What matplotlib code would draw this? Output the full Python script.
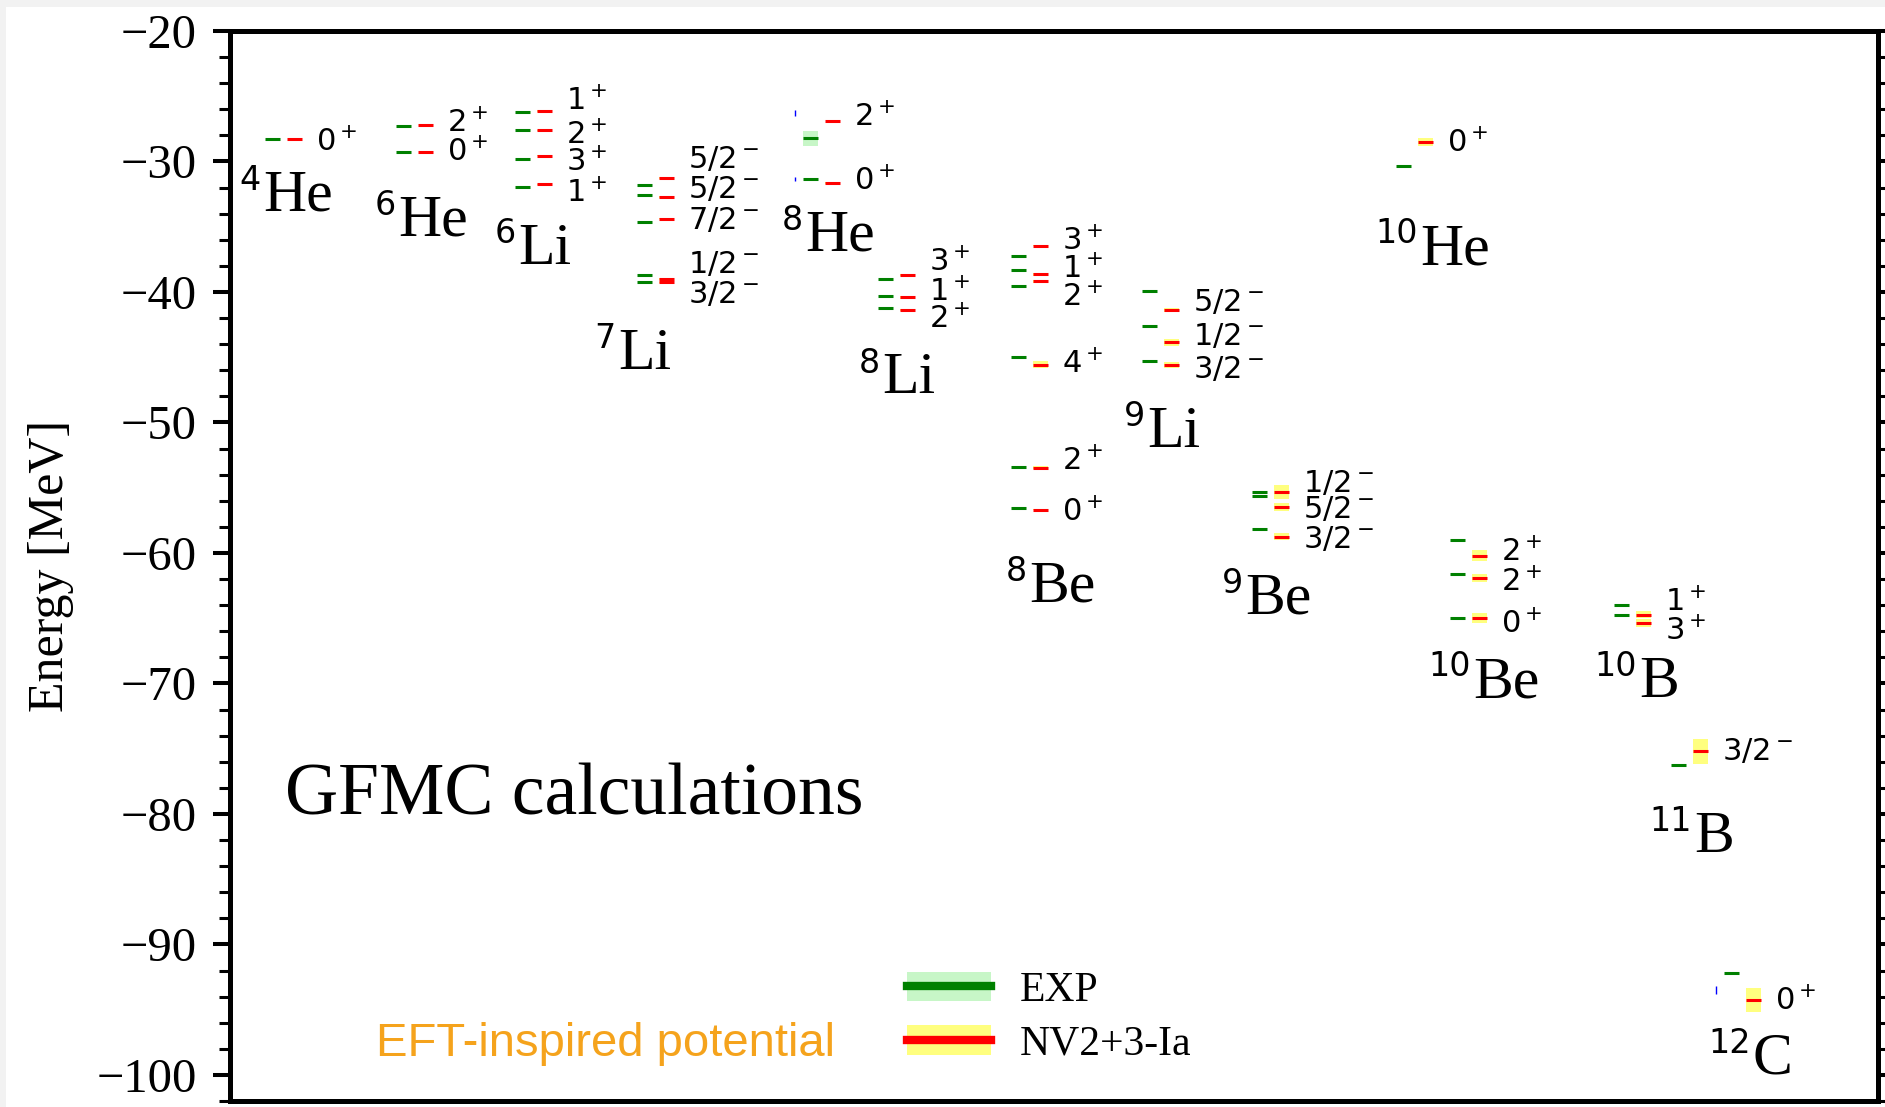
import matplotlib.pyplot as plt
from matplotlib.lines import Line2D
from matplotlib.patches import Patch, Rectangle

plt.rcParams['font.family'] = ['Liberation Serif', 'DejaVu Serif']
plt.rcParams['mathtext.fontset'] = 'dejavusans'

# nuclei, left to right
mass = ['4', '6', '6', '7', '8', '8', '8', '9', '9', '10', '10', '10', '11', '12']
symbol = ['He', 'He', 'Li', 'Li', 'He', 'Li', 'Be', 'Li', 'Be', 'He', 'Be', 'B', 'B', 'C']

# J^pi of each level, top to bottom
spins = [
    ['0^+'],
    ['2^+', '0^+'],
    ['1^+', '2^+', '3^+', '1^+'],
    ['5/2^-', '5/2^-', '7/2^-', '1/2^-', '3/2^-'],
    ['2^+', '0^+'],
    ['3^+', '1^+', '2^+'],
    ['3^+', '1^+', '2^+', '4^+', '2^+', '0^+'],
    ['5/2^-', '1/2^-', '3/2^-'],
    ['1/2^-', '5/2^-', '3/2^-'],
    ['0^+'],
    ['2^+', '2^+', '0^+'],
    ['1^+', '3^+'],
    ['3/2^-'],
    ['0^+'],
]

# experimental energies (MeV) and widths
e_exp = [
    [-28.30],
    [-27.30, -29.27],
    [-26.24, -27.60, -29.80, -31.94],
    [-31.78, -32.56, -34.61, -38.70, -39.24],
    [-28.23, -31.35],
    [-39.00, -40.30, -41.20],
    [-37.23, -38.28, -39.56, -45.00, -53.40, -56.55],
    [-39.94, -42.60, -45.30],
    [-55.36, -55.66, -58.16],
    [-30.33],
    [-58.98, -61.60, -64.95],
    [-63.96, -64.72],
    [-76.22],
    [-92.16],
]
err_exp = [
    [0.0],
    [0.0, 0.0],
    [0.0, 0.0, 0.0, 0.0],
    [0.0, 0.0, 0.0, 0.0, 0.0],
    [0.55, 0.0],
    [0.0, 0.0, 0.0],
    [0.0, 0.0, 0.0, 0.0, 0.0, 0.0],
    [0.0, 0.0, 0.0],
    [0.0, 0.0, 0.0],
    [0.0],
    [0.0, 0.0, 0.0],
    [0.0, 0.0],
    [0.0],
    [0.0],
]

# GFMC with NV2+3-Ia (MeV) and Monte Carlo errors
e_calc = [
    [-28.28],
    [-27.20, -29.28],
    [-26.10, -27.60, -29.56, -31.76],
    [-31.25, -32.70, -34.40, -39.00, -39.25],
    [-26.90, -31.63],
    [-38.70, -40.42, -41.38],
    [-36.46, -38.66, -39.17, -45.56, -53.46, -56.68],
    [-41.35, -43.87, -45.60],
    [-55.33, -56.48, -58.75],
    [-28.51],
    [-60.20, -61.95, -65.00],
    [-64.72, -65.37],
    [-75.20],
    [-94.26],
]
err_calc = [
    [0.02],
    [0.03, 0.03],
    [0.08, 0.03, 0.03, 0.03],
    [0.08, 0.06, 0.04, 0.05, 0.05],
    [0.03, 0.08],
    [0.06, 0.10, 0.10],
    [0.04, 0.12, 0.12, 0.25, 0.12, 0.06],
    [0.15, 0.30, 0.25],
    [0.55, 0.30, 0.25],
    [0.28],
    [0.40, 0.30, 0.40],
    [0.30, 0.30],
    [0.98],
    [0.94],
]

# zero-width blue marks: (nucleus index, energy, half height)
blue_marks = [(4, -26.30, 0.22), (4, -31.35, 0.18), (13, -93.50, 0.28)]

# layout (x in pixels from the left spine)
x_lev = [35, 166, 285, 407, 573, 648, 781, 912, 1022, 1166, 1220, 1384, 1441, 1494]
seg = 15
red_off = 22
lab_off = 51
spin_y = [
    [-28.35],
    [-26.9, -29.1],
    [-25.2, -27.77, -29.9, -32.25],
    [-29.64, -31.94, -34.36, -37.69, -39.99],
    [-26.4, -31.3],
    [-37.56, -39.86, -41.9],
    [-35.9, -38.07, -40.25, -45.36, -52.8, -56.7],
    [-40.6, -43.2, -45.75],
    [-54.5, -56.5, -58.8],
    [-28.4],
    [-59.75, -62.1, -65.3],
    [-63.6, -65.8],
    [-75.0],
    [-94.15],
]
name_x = [33, 168, 288, 388, 575, 652, 799, 917, 1015, 1190, 1243, 1409, 1464, 1523]
name_y = [-33.78, -35.69, -37.87, -45.87, -36.85, -47.78, -63.71, -51.88, -64.63,
          -37.87, -71.05, -71.05, -82.88, -99.9]

fig = plt.figure(figsize=(18.85, 11.07), dpi=100)
ax = fig.add_axes([230 / 1885, 6 / 1107, 1648 / 1885, 1070 / 1107])

for i in range(len(mass)):
    x0 = x_lev[i]
    xr = x0 + red_off
    for e, de in zip(e_exp[i], err_exp[i]):
        if de > 0:
            ax.fill_between([x0, x0 + seg], e - de, e + de, color='lightgreen',
                            alpha=0.5, lw=0, zorder=1)
        ax.hlines(e, x0, x0 + seg, color='green', lw=2.2, zorder=3)
    for e, de in zip(e_calc[i], err_calc[i]):
        ax.fill_between([xr, xr + seg], e - de, e + de, color='yellow',
                        alpha=0.5, lw=0, zorder=1)
        ax.hlines(e, xr, xr + seg, color='red', lw=2.2, zorder=3)
    for s, ys in zip(spins[i], spin_y[i]):
        ax.annotate('$%s$' % s, (x0 + lab_off, ys), xytext=(0, -8),
                    textcoords='offset points', ha='left', va='baseline',
                    fontsize=22)
    ax.text(name_x[i], name_y[i], symbol[i], ha='left', va='baseline', fontsize=43)
    ax.annotate(mass[i], (name_x[i], name_y[i]), xytext=(-1.5, 15),
                textcoords='offset points', ha='right', va='baseline',
                fontsize=24, family='DejaVu Sans')

for i, e, h in blue_marks:
    ax.vlines(x_lev[i] - 8, e - h, e + h, color='blue', lw=1.0, zorder=3)

ax.text(55, -80.05, 'GFMC calculations', fontsize=53, ha='left', va='baseline')
ax.text(146, -97.65, 'EFT-inspired potential', fontsize=34, ha='left', va='center',
        color='#f5a31c', family='Liberation Sans')

handles = [(Patch(facecolor='lightgreen', alpha=0.5, lw=0), Line2D([], [], color='green', lw=6)),
           (Patch(facecolor='yellow', alpha=0.5, lw=0), Line2D([], [], color='red', lw=6))]
ax.legend(handles, ['EXP', 'NV2+3-Ia'], loc='center left', bbox_to_anchor=(0.411, 0.078),
          frameon=False, fontsize=30, borderpad=0, borderaxespad=0, handlelength=2.0,
          handletextpad=0.7, labelspacing=0.36)

ax.set_xlim(0, 1648)
ax.set_ylim(-102, -20)
ax.set_xticks([])
ax.set_yticks(range(-100, -19, 10))
ax.set_yticks(range(-102, -19, 2), minor=True)
ax.tick_params(axis='y', which='both', direction='out', right=True, labelsize=35, pad=12)
ax.tick_params(axis='y', which='major', length=12, width=2.9)
ax.tick_params(axis='y', which='minor', length=8, width=2.2)
for sp in ax.spines.values():
    sp.set_linewidth(3.6)
ax.set_ylabel('Energy [MeV]', fontsize=36, labelpad=16)

# light border strips along the left and top edges
fig.add_artist(Rectangle((0, 0), 6 / 1885, 1, transform=fig.transFigure,
                         color='#f2f2f2', lw=0, zorder=-1))
fig.add_artist(Rectangle((0, 1 - 7 / 1107), 1, 7 / 1107, transform=fig.transFigure,
                         color='#f2f2f2', lw=0, zorder=-1))

fig.savefig('out.png', dpi=100)
